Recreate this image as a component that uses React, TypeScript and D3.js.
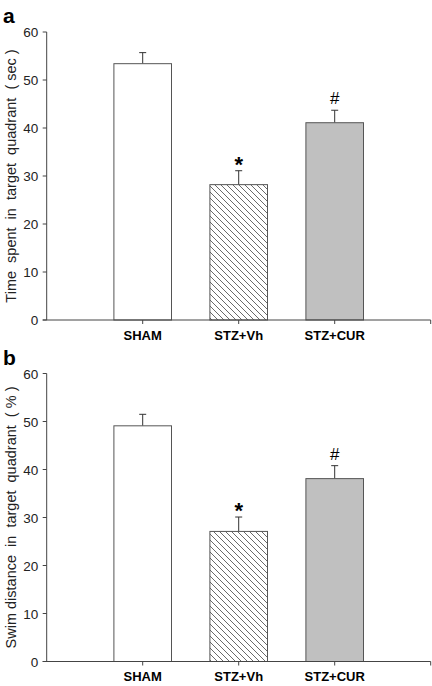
import React from "react";
import * as d3 from "d3";

const groups = ["SHAM", "STZ+Vh", "STZ+CUR"];
const timeMeans = [53.4, 28.2, 41.1];
const timeErrs = [2.3, 2.9, 2.6];
const distMeans = [49.1, 27.1, 38.1];
const distErrs = [2.4, 3.0, 2.7];
const marks = ["", "*", "#"];
const yTicks = [0, 10, 20, 30, 40, 50, 60];

const W = 432;
const H = 686;
const FONT = "'Liberation Sans', Arial, sans-serif";

type PanelProps = {
  label: string;
  title: string;
  means: number[];
  errs: number[];
  top: number;
  bottom: number;
};

function Panel({ label, title, means, errs, top, bottom }: PanelProps) {
  const x = d3.scaleLinear().domain([0, 4]).range([46.7, 430.7]);
  const y = d3.scaleLinear().domain([0, 60]).range([bottom, top]);
  const bw = x(0.6) - x(0);
  const fills = ["#ffffff", "url(#hatch)", "#c0c0c0"];
  return (
    <g>
      <text x={3} y={top - 9} fontFamily={FONT} fontWeight="bold" fontSize={21}>
        {label}
      </text>
      <text
        transform={`translate(15.5,${(top + bottom) / 2}) rotate(-90)`}
        textAnchor="middle"
        fontFamily={FONT}
        fontSize={14.5}
        fill="#222"
        style={{ whiteSpace: "pre" }}
        xmlSpace="preserve"
      >
        {title}
      </text>
      {means.map((m, i) => {
        const cx = x(i + 1);
        const et = y(m + errs[i]);
        return (
          <g key={i}>
            <line x1={cx} x2={cx} y1={y(m)} y2={et} stroke="#333" strokeWidth={1} />
            <line x1={cx - 3.5} x2={cx + 3.5} y1={et} y2={et} stroke="#333" strokeWidth={1} />
            <rect
              x={cx - bw / 2}
              y={y(m)}
              width={bw}
              height={y(0) - y(m)}
              fill={fills[i]}
              stroke="#555"
              strokeWidth={1}
            />
            {marks[i] === "*" && (
              <text x={cx} y={et + 1} textAnchor="middle" fontFamily={FONT} fontWeight="bold" fontSize={22}>
                *
              </text>
            )}
            {marks[i] === "#" && (
              <text x={cx} y={et - 6} textAnchor="middle" fontFamily={FONT} fontSize={17}>
                #
              </text>
            )}
            <text x={cx} y={bottom + 19.5} textAnchor="middle" fontFamily={FONT} fontWeight="bold" fontSize={13}>
              {groups[i]}
            </text>
          </g>
        );
      })}
      <line x1={x(0)} x2={x(0)} y1={y(60)} y2={y(0)} stroke="#444" strokeWidth={1} />
      <line x1={x(0) - 4} x2={x(4)} y1={y(0)} y2={y(0)} stroke="#444" strokeWidth={1} />
      {yTicks.map((t) => (
        <g key={t}>
          <line x1={x(0) - 4} x2={x(0)} y1={y(t)} y2={y(t)} stroke="#444" strokeWidth={1} />
          <text x={x(0) - 8.5} y={y(t) + 5} textAnchor="end" fontFamily={FONT} fontSize={13.5} fill="#222">
            {t}
          </text>
        </g>
      ))}
      {[1, 2, 3, 4].map((t) => (
        <line key={t} x1={x(t)} x2={x(t)} y1={y(0)} y2={y(0) + 4} stroke="#444" strokeWidth={1} />
      ))}
    </g>
  );
}

export default function App() {
  return (
    <svg
      width={W}
      height={H}
      style={{ position: "absolute", left: 0, top: 0, background: "#fff" }}
    >
      <defs>
        <pattern id="hatch" patternUnits="userSpaceOnUse" width={6} height={6}>
          <rect width={6} height={6} fill="#fff" />
          <path d="M-1,-1 L7,7 M-1,5 L1,7 M5,-1 L7,1" stroke="#444" strokeWidth={0.8} />
        </pattern>
      </defs>
      <Panel
        label="a"
        title="Time  spent  in  target  quadrant  ( sec )"
        means={timeMeans}
        errs={timeErrs}
        top={32}
        bottom={320}
      />
      <Panel
        label="b"
        title="Swim distance  in  target  quadrant  ( % )"
        means={distMeans}
        errs={distErrs}
        top={373.5}
        bottom={661.5}
      />
    </svg>
  );
}
